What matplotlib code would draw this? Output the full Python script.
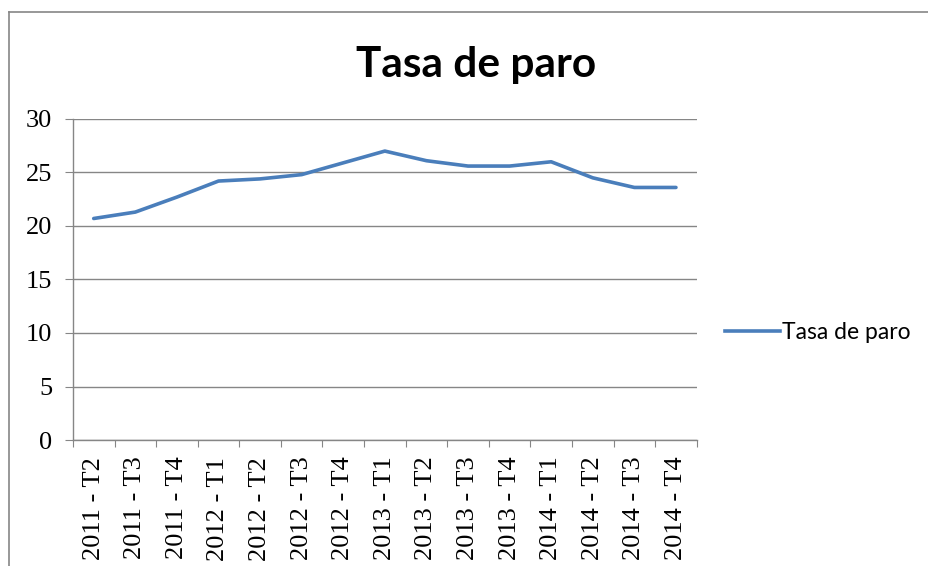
import numpy as np
import matplotlib.pyplot as plt
from matplotlib.lines import Line2D

trimestres = ["2011 - T2", "2011 - T3", "2011 - T4",
              "2012 - T1", "2012 - T2", "2012 - T3", "2012 - T4",
              "2013 - T1", "2013 - T2", "2013 - T3", "2013 - T4",
              "2014 - T1", "2014 - T2", "2014 - T3", "2014 - T4"]
tasa_paro = [20.7, 21.3, 22.7, 24.2, 24.4, 24.8, 25.9,
             27.0, 26.1, 25.6, 25.6, 26.0, 24.5, 23.6, 23.6]
y_ticks = [0, 5, 10, 15, 20, 25, 30]

gris = "#868686"
azul = "#4A7EBB"

fig = plt.figure(figsize=(9.29, 5.66), dpi=100)
ax = fig.add_axes([0.0785, 0.2226, 0.6715, 0.5672])

x = np.arange(len(trimestres))
ax.plot(x, tasa_paro, color=azul, lw=2.6, solid_capstyle="round",
        solid_joinstyle="round", label="Tasa de paro")

ax.set_xlim(-0.5, len(trimestres) - 0.5)
ax.set_ylim(0, 30)
ax.set_yticks(y_ticks)
ax.set_yticklabels([str(v) for v in y_ticks], family="Liberation Serif",
                   fontsize=19)
ax.yaxis.grid(True, color=gris, lw=1)
ax.set_axisbelow(True)

# ticks entre categorias, etiquetas en el centro
ax.set_xticks(np.arange(-0.5, len(trimestres), 1.0))
ax.set_xticklabels([])
ax.set_xticks(x, minor=True)
ax.set_xticklabels(trimestres, minor=True, rotation=90,
                   family="Liberation Serif", fontsize=19)
ax.tick_params(axis="x", which="major", length=5, color=gris, direction="out")
ax.tick_params(axis="x", which="minor", length=0, pad=12)
ax.tick_params(axis="y", length=6, color=gris, pad=9)

for s in ["top", "right"]:
    ax.spines[s].set_visible(False)
for s in ["left", "bottom"]:
    ax.spines[s].set_color(gris)
    ax.spines[s].set_linewidth(1)

fig.text(0.512, 0.885, "Tasa de paro", ha="center", va="center",
         family="Lato", fontweight="bold", fontsize=30.5)

leg = fig.legend(handles=[Line2D([], [], color=azul, lw=2.6)],
                 labels=["Tasa de paro"], loc="center left",
                 bbox_to_anchor=(0.780, 0.4117), frameon=False,
                 borderpad=0, borderaxespad=0,
                 handlelength=2.4, handletextpad=0.1,
                 prop={"family": "Lato", "size": 16.5})

# borde del grafico
fig.add_artist(Line2D([0.0097, 1.0], [1 - 12 / 566, 1 - 12 / 566],
                      color=gris, lw=1.2, transform=fig.transFigure))
fig.add_artist(Line2D([0.0097, 0.0097], [0.0, 1 - 12 / 566],
                      color=gris, lw=1.2, transform=fig.transFigure))

fig.savefig("out.png", dpi=100)
